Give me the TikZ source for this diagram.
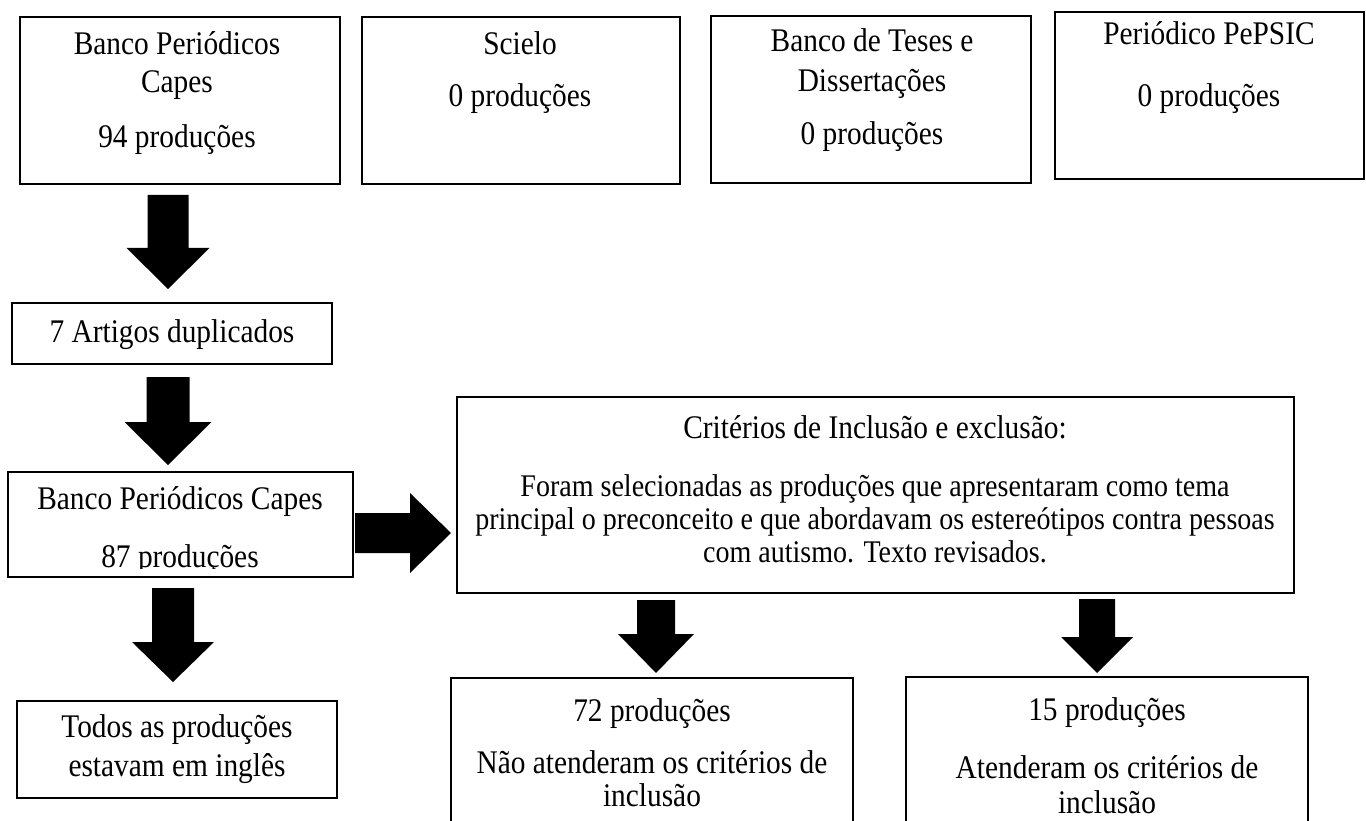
\documentclass[tikz,border=0pt]{standalone}
\usepackage{fontspec}
\setmainfont{Liberation Serif}[FakeStretch=0.89]
\usetikzlibrary{calc}

\tikzset{
  box/.style={draw, line width=1.8pt, inner sep=0pt, outer sep=0pt},
  txt/.style={align=center, inner sep=0pt, font=\fontsize{33}{35}\selectfont},
}
\newcommand{\parfont}{\fontsize{31.5}{35}\selectfont}

% thick block arrows (start, tip, half shaft, half head, head length)
\newcommand{\blockdown}[5]{%
  \fill ($(#1)+(-#3,0)$) -- ($(#2)+(-#3,-#5)$) -- ($(#2)+(-#4,-#5)$) -- (#2)
    -- ($(#2)+(#4,-#5)$) -- ($(#2)+(#3,-#5)$) -- ($(#1)+(#3,0)$) -- cycle;}
\newcommand{\blockright}[5]{%
  \fill ($(#1)+(0,-#3)$) -- ($(#2)+(-#5,-#3)$) -- ($(#2)+(-#5,-#4)$) -- (#2)
    -- ($(#2)+(-#5,#4)$) -- ($(#2)+(-#5,#3)$) -- ($(#1)+(0,#3)$) -- cycle;}

\begin{document}
\begin{tikzpicture}[x=1pt,y=-1pt]
\useasboundingbox (0,0) rectangle (1366,821);
\clip (0,0) rectangle (1366,821);

% databases
\node[box, minimum width=320pt, minimum height=167pt] (b1) at (180,100.5) {};
\node[box, minimum width=318pt, minimum height=167pt] (b2) at (521,100.5) {};
\node[box, minimum width=320pt, minimum height=167pt] (b3) at (871,99.5) {};
\node[box, minimum width=309pt, minimum height=167pt] (b4) at (1209.5,95.5) {};
\node[txt] (t1) at (177,93) {Banco Periódicos\\[3pt]Capes\\[20pt]94 produções};
\node[txt] (t2) at (520,73) {Scielo\\[17pt]0 produções};
\node[txt] (t3) at (872,90) {Banco de Teses e\\[5pt]Dissertações\\[18pt]0 produções};
\node[txt] (t4) at (1209,68) {Periódico PePSIC\\[27pt]0 produções};

% left column
\node[box, minimum width=320pt, minimum height=61pt] (b5) at (172,333.5) {};
\node[txt] (t5) at (172,335) {7 Artigos duplicados};
\node[box, minimum width=345pt, minimum height=105pt] (b6) at (180.5,524.5) {};
\begin{scope}
  \clip (b6.north west) rectangle ($(b6.south east)+(0,-9)$);
  \node[txt] (t6) at (180,531) {Banco Periódicos Capes\\[23pt]87 produções};
\end{scope}
\node[box, minimum width=320pt, minimum height=97pt] (b7) at (177,749.5) {};
\node[txt] (t7) at (177,749.5) {Todos as produções\\[4pt]estavam em inglês};

% criteria and results
\node[box, minimum width=837pt, minimum height=196pt] (b8) at (875.5,495) {};
\node[txt] (t8) at (875,489) {Critérios de Inclusão e exclusão:\\[23pt]
  {\parfont Foram selecionadas as produções que apresentaram como tema}\\[-2pt]
  {\parfont principal o preconceito e que abordavam os estereótipos contra pessoas}\\[-2pt]
  {\parfont com autismo. Texto revisados.}};
\node[box, minimum width=402pt, minimum height=200pt] (b9) at (652,778) {};
\node[txt] (t9) at (652,752.5) {72 produções\\[17pt]Não atenderam os critérios de\\[-2pt]inclusão};
\node[box, minimum width=402pt, minimum height=200pt] (b10) at (1107,777) {};
\node[txt] (t10) at (1107,755.5) {15 produções\\[23pt]Atenderam os critérios de\\[0pt]inclusão};

% arrow ends
\coordinate (a1t) at ($(b5.north)+(-4,-14)$);
\coordinate (a1s) at ($(a1t |- b1.south)+(0,11)$);
\coordinate (a2t) at ($(b6.north)+(-12.5,-7)$);
\coordinate (a2s) at ($(a2t |- b5.south)+(0,13)$);
\coordinate (a3t) at ($(b7.north)+(-4,-19)$);
\coordinate (a3s) at ($(a3t |- b6.south)+(0,11)$);
\coordinate (a4s) at ($(b6.east)+(2,8.5)$);
\coordinate (a4t) at ($(a4s -| b8.west)+(-6,0)$);
\coordinate (a5t) at ($(b9.north)+(4,-5)$);
\coordinate (a5s) at ($(a5t |- b8.south)+(0,7)$);
\coordinate (a6t) at ($(b10.north)+(-10,-4)$);
\coordinate (a6s) at ($(a6t |- b8.south)+(0,6)$);

\blockdown{a1s}{a1t}{20.5}{41.5}{41}
\blockdown{a2s}{a2t}{21.5}{43.5}{43}
\blockdown{a3s}{a3t}{21}{41}{40}
\blockright{a4s}{a4t}{20}{40}{41}
\blockdown{a5s}{a5t}{19}{38}{39}
\blockdown{a6s}{a6t}{18}{36}{36}
\end{tikzpicture}
\end{document}
